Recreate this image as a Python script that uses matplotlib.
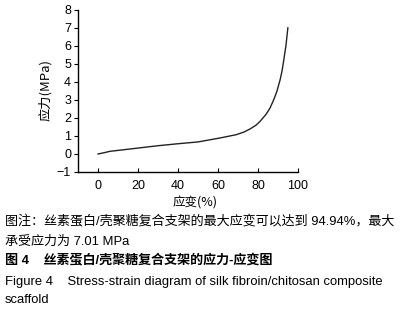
import matplotlib
matplotlib.use("Agg")
import matplotlib.pyplot as plt

plt.rcParams['font.family'] = ['Liberation Sans', 'Noto Sans CJK SC', 'DejaVu Sans']

# strain (%) and stress (MPa)
strain = [0, 3, 6, 10, 20, 30, 40, 50, 56, 61, 65, 69, 73, 76, 79, 81,
          84, 86, 88, 89.5, 91, 92, 93, 94, 94.94]
stress = [0, 0.07, 0.15, 0.2, 0.33, 0.46, 0.57, 0.67, 0.79, 0.89, 0.98, 1.07,
          1.22, 1.39, 1.6, 1.81, 2.2, 2.55, 3.05, 3.5, 4.1, 4.6, 5.3, 6.05, 7.01]

x_ticks = [0, 20, 40, 60, 80, 100]
y_ticks = [-1, 0, 1, 2, 3, 4, 5, 6, 7, 8]

caption = [
    ("图注：丝素蛋白/壳聚糖复合支架的最大应变可以达到 94.94%，最大", "normal", 221.5),
    ("承受应力为 7.01 MPa", "normal", 241.5),
    ("图 4    丝素蛋白/壳聚糖复合支架的应力-应变图", "bold", 261),
    ("Figure 4    Stress-strain diagram of silk fibroin/chitosan composite", "normal", 281.5),
    ("scaffold", "normal", 300),
]

W, H = 409, 314
fig = plt.figure(figsize=(W / 100, H / 100), dpi=100)
ax = fig.add_axes([78 / W, 1 - 172 / H, 220 / W, 162 / H])

ax.plot(strain, stress, color='#222222', lw=1.0)
ax.set_xlim(-10, 100)
ax.set_ylim(-1, 8)
ax.set_xticks(x_ticks)
ax.set_yticks(y_ticks)
ax.set_yticklabels([str(v).replace('-', '\u2212') for v in y_ticks])
ax.spines['top'].set_visible(False)
ax.spines['right'].set_visible(False)
for s in ('left', 'bottom'):
    ax.spines[s].set_linewidth(1.0)
ax.tick_params(axis='x', direction='in', length=3, labelsize=9, pad=6)
ax.tick_params(axis='y', direction='out', length=3, labelsize=9, pad=2)

fig.text(45 / W, 1 - 90 / H, "应力(MPa)", rotation=90, ha='center', va='center',
         fontsize=9.5, family=['Noto Sans CJK SC', 'DejaVu Sans'])
fig.text(195 / W, 1 - 203 / H, "应变(%)", ha='center', va='center',
         fontsize=9, family=['Noto Sans CJK SC', 'DejaVu Sans'])

for txt, wt, yc in caption:
    fig.text(5 / W, 1 - yc / H, txt, ha='left', va='center', fontsize=9.4,
             fontweight=wt, family=['Liberation Sans', 'Noto Sans CJK SC'])

fig.savefig("out.png", dpi=100)
